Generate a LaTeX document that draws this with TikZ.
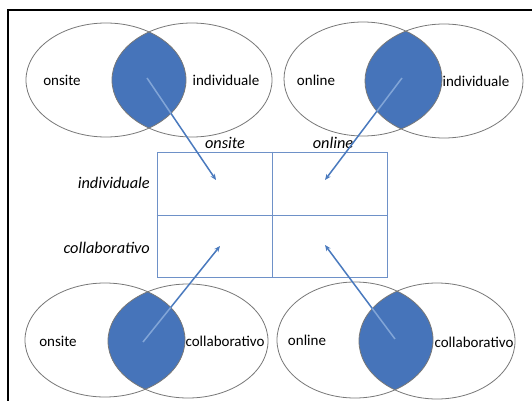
\documentclass[tikz,border=0pt]{standalone}
\usepackage{fontspec}
\setmainfont{Carlito}
\usetikzlibrary{arrows.meta}
\definecolor{lensblue}{RGB}{70,116,186}
\definecolor{arrblue}{RGB}{74,122,190}
\definecolor{lightarr}{RGB}{130,165,215}
\definecolor{gridblue}{RGB}{110,145,200}
\definecolor{ellgray}{RGB}{120,120,120}
\tikzset{
  ell/.style={draw=ellgray, line width=0.8pt},
  lbl/.style={font=\fontsize{15}{18}\selectfont, inner sep=0pt},
  ilbl/.style={font=\fontsize{16.3}{19}\selectfont\itshape, inner sep=0pt},
  arr/.style={draw=arrblue, line width=1.5pt, -{Stealth[length=6pt,width=5pt]}},
  grid/.style={draw=gridblue, line width=0.8pt},
}
\newcommand{\venn}[8]{%
  \begin{scope}
    \clip (#1,#2) ellipse [x radius=#5, y radius=#6];
    \fill[lensblue] (#3,#4) ellipse [x radius=#5, y radius=#6];
  \end{scope}
  \draw[ell] (#1,#2) ellipse [x radius=#5, y radius=#6];
  \draw[ell] (#3,#4) ellipse [x radius=#5, y radius=#6];
}
\begin{document}
\begin{tikzpicture}[x=1pt,y=-1pt]
\useasboundingbox (0,0) rectangle (532,401);
\fill[white] (0,0) rectangle (532,401);
% frame
\draw[black, line width=1.3pt] (8,401) -- (8,10) -- (532,10);

% Venn diagrams
\venn{106}{80}{192}{80}{80}{57}{}{}
\venn{363}{79}{444}{81}{79}{57}{}{}
\venn{105}{340}{188}{341}{80}{57}{}{}
\venn{355}{340}{437}{341}{78}{58}{}{}

% ellipse labels
\node[lbl] (tl1) at (62,80) {onsite};
\node[lbl] (tl2) at (226,80) {individuale};
\node[lbl] (tr1) at (316,80) {online};
\node[lbl] (tr2) at (476,81) {individuale};
\node[lbl] (bl1) at (58,341) {onsite};
\node[lbl] (bl2) at (225,341) {collaborativo};
\node[lbl] (br1) at (307,340) {online};
\node[lbl] (br2) at (474,342) {collaborativo};

% table
\node[draw=gridblue, line width=1pt, minimum width=230pt, minimum height=125pt, inner sep=0pt] (tab) at (272,214.5) {};
\draw[grid] (tab.north) -- (tab.south);
\draw[grid] (tab.west |- 0,215) -- (tab.east |- 0,215);

% table labels
\node[ilbl] (c1) at (225,143) {onsite};
\node[ilbl] (c2) at (333,143) {online};
\node[ilbl, anchor=east] (r1) at (150,183) {individuale};
\node[ilbl, anchor=east] (r2) at (150,248) {collaborativo};

% arrows
\coordinate (s1) at (147,78);
\coordinate (e1) at (216,180);
\coordinate (s2) at (402,78);
\coordinate (e2) at (325,180);
\coordinate (s3) at (143,342);
\coordinate (e3) at (220,246);
\coordinate (s4) at (395,339);
\coordinate (e4) at (325,245);
\draw[arr] (s1) -- (e1);
\draw[arr] (s2) -- (e2);
\draw[arr] (s3) -- (e3);
\draw[arr] (s4) -- (e4);
% lighter part over the lenses
\begin{scope}
  \clip (106,80) ellipse [x radius=80, y radius=57];
  \clip (192,80) ellipse [x radius=80, y radius=57];
  \draw[lightarr, line width=1.5pt] (s1) -- (e1);
\end{scope}
\begin{scope}
  \clip (363,79) ellipse [x radius=79, y radius=57];
  \clip (444,81) ellipse [x radius=79, y radius=57];
  \draw[lightarr, line width=1.5pt] (s2) -- (e2);
\end{scope}
\begin{scope}
  \clip (105,340) ellipse [x radius=80, y radius=57];
  \clip (188,341) ellipse [x radius=80, y radius=57];
  \draw[lightarr, line width=1.5pt] (s3) -- (e3);
\end{scope}
\begin{scope}
  \clip (355,340) ellipse [x radius=78, y radius=58];
  \clip (437,341) ellipse [x radius=78, y radius=58];
  \draw[lightarr, line width=1.5pt] (s4) -- (e4);
\end{scope}
\end{tikzpicture}
\end{document}
